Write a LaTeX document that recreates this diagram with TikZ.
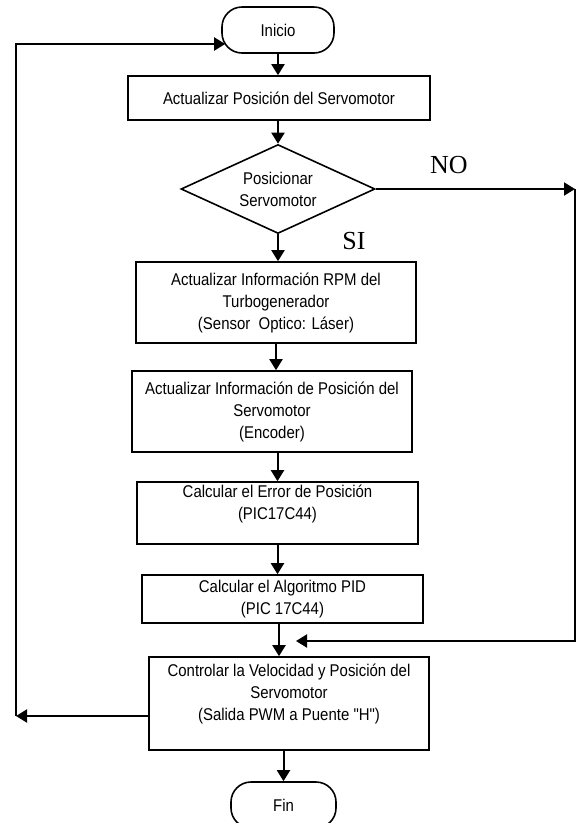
\documentclass[tikz,border=0pt]{standalone}
\usepackage{fontspec}
\newfontfamily\narrowsans{Liberation Sans}[FakeStretch=0.88]
\newfontfamily\timesfont{Liberation Serif}
\usepackage{tikz}
\usetikzlibrary{shapes.geometric,arrows.meta}

\tikzset{
    proc/.style={draw, line width=1.6pt, align=center, inner sep=2pt},
    term/.style={draw, line width=1.6pt, rounded corners=20pt, minimum width=112pt, minimum height=46pt},
    decision/.style={draw, diamond, aspect=2.2, line width=1.6pt, align=center, minimum width=194pt, minimum height=89pt, inner sep=0pt},
    flow/.style={line width=2pt, -{Triangle[length=11pt,width=13pt]}},
    lbl/.style={font=\timesfont\fontsize{26}{26}\selectfont}
}

\begin{document}
\begin{tikzpicture}[x=1pt, y=-1pt, font=\narrowsans\fontsize{17}{22}\selectfont]
    \useasboundingbox (0,0) rectangle (581,823);

    \node[term] (inicio) at (278,30) {Inicio};
    \node[proc, minimum width=302pt, minimum height=44pt] (act) at (279,98) {Actualizar Posición del Servomotor};
    \node[decision] (dec) at (278,189) {Posicionar\\Servomotor};
    \node[proc, minimum width=280pt, minimum height=81pt] (rpm) at (276,302.5) {Actualizar Información RPM del\\Turbogenerador\\(Sensor\ \ Optico: Láser)};
    \node[proc, minimum width=280pt, minimum height=81pt] (enc) at (272,411.5) {Actualizar Información de Posición del\\Servomotor\\(Encoder)};
    \node[proc, minimum width=281pt, minimum height=62pt] (err) at (277.5,513) {Calcular el Error de Posición\\(PIC17C44)\\\mbox{}};
    \node[proc, minimum width=281pt, minimum height=48pt] (pid) at (282.5,599) {Calcular el Algoritmo PID\\(PIC 17C44)};
    \node[proc, minimum width=280pt, minimum height=93pt] (ctrl) at (289,703.5) {Controlar la Velocidad y Posición del\\Servomotor\\(Salida PWM a Puente "H")\\\mbox{}};
    \node[term, minimum width=105pt] (fin) at (283.5,805) {Fin};

    \node[lbl] (lblno) at (449,165) {NO};
    \node[lbl] (lblsi) at (354,241) {SI};

    \coordinate (lbot) at (16,716);
    \coordinate (ltop) at (16,44);
    \coordinate (rtop) at (575,189);
    \coordinate (rbot) at (575,641);
    \coordinate (back) at (296,641);

    \draw[flow] (inicio.south) -- (inicio.south |- act.north);
    \draw[flow] (act.south -| dec.north) -- (dec.north);
    \draw[flow] (dec.south) -- (dec.south |- rpm.north);
    \draw[flow] (rpm.south) -- (rpm.south |- enc.north);
    \draw[flow] (enc.south -| err.north) -- (err.north);
    \draw[flow] (err.south) -- (err.south |- pid.north);
    \draw[flow] (pid.south -| 279,0) -- (ctrl.north -| 279,0);
    \draw[flow] (ctrl.south -| fin.north) -- (fin.north);

    \draw[flow] (dec.east) -- (rtop);
    \draw[flow] (rtop) -- (rbot) -- (back);
    \draw[flow] (ctrl.west |- lbot) -- (lbot);
    \draw[flow, shorten >=-4pt] (lbot) -- (ltop) -- (inicio.west |- ltop);
\end{tikzpicture}
\end{document}
